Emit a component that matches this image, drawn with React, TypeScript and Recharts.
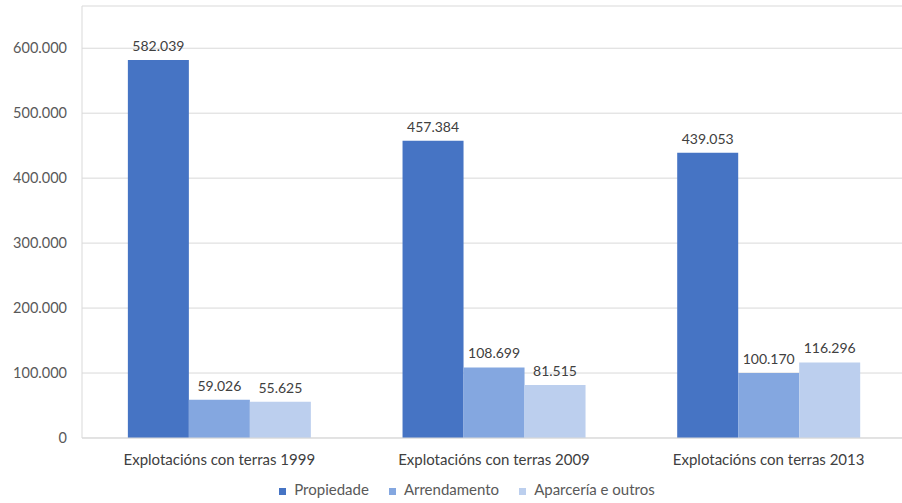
import {
  BarChart,
  Bar,
  XAxis,
  YAxis,
  CartesianGrid,
  Legend,
  LabelList,
} from "recharts";

const CATEGORIES = [
  "Explotacións con terras 1999",
  "Explotacións con terras 2009",
  "Explotacións con terras 2013",
];
const PROPIEDADE = [582039, 457384, 439053];
const ARRENDAMENTO = [59026, 108699, 100170];
const APARCERIA = [55625, 81515, 116296];
const Y_TICKS = [0, 100000, 200000, 300000, 400000, 500000, 600000];

const SERIES = [
  { key: "propiedade", name: "Propiedade", color: "#4674c4" },
  { key: "arrendamento", name: "Arrendamento", color: "#84a7e0" },
  { key: "aparceria", name: "Aparcería e outros", color: "#bccfee" },
];

const data = CATEGORIES.map((name, i) => ({
  name,
  propiedade: PROPIEDADE[i],
  arrendamento: ARRENDAMENTO[i],
  aparceria: APARCERIA[i],
}));

const FONT = "Lato, 'Open Sans', sans-serif";
const fmt = (v: number) => v.toLocaleString("de-DE");

function LegendContent() {
  return (
    <div
      style={{
        height: 28,
        lineHeight: "28px",
        textAlign: "center",
        fontFamily: FONT,
        fontSize: 15,
        color: "#595959",
        whiteSpace: "nowrap",
      }}
    >
      {SERIES.map((s) => (
        <span key={s.key} style={{ marginRight: 20 }}>
          <span
            style={{
              display: "inline-block",
              width: 7,
              height: 7,
              background: s.color,
              marginRight: 8,
              verticalAlign: "middle",
            }}
          />
          {s.name}
        </span>
      ))}
    </div>
  );
}

export default function App() {
  return (
    <div
      style={{
        position: "fixed",
        left: 0,
        top: 0,
        width: 902,
        height: 503,
        overflow: "hidden",
        background: "#fff",
      }}
    >
      <BarChart
        width={908}
        height={503}
        data={data}
        margin={{ top: 6, right: 2, left: 0, bottom: 0 }}
        barCategoryGap="16.7%"
        barGap={0}
      >
        <CartesianGrid vertical={false} stroke="#d9d9d9" />
        <XAxis
          dataKey="name"
          height={37}
          tickLine={false}
          tickSize={0}
          tickMargin={16}
          axisLine={{ stroke: "#d9d9d9" }}
          tick={{ fill: "#404040", fontSize: 15, fontFamily: FONT }}
        />
        <YAxis
          width={82}
          domain={[0, 665000]}
          ticks={Y_TICKS}
          tickFormatter={fmt}
          tickLine={false}
          tickSize={0}
          tickMargin={15}
          axisLine={{ stroke: "#d9d9d9" }}
          tick={{ fill: "#595959", fontSize: 14.5, fontFamily: FONT }}
        />
        <Legend
          verticalAlign="bottom"
          content={<LegendContent />}
          wrapperStyle={{ left: 24 }}
        />
        {SERIES.map((s) => (
          <Bar
            key={s.key}
            dataKey={s.key}
            name={s.name}
            fill={s.color}
            isAnimationActive={false}
          >
            <LabelList
              dataKey={s.key}
              position="top"
              offset={9}
              formatter={(v: number) => fmt(v)}
              style={{ fill: "#404040", fontSize: 14, fontFamily: FONT }}
            />
          </Bar>
        ))}
      </BarChart>
    </div>
  );
}
